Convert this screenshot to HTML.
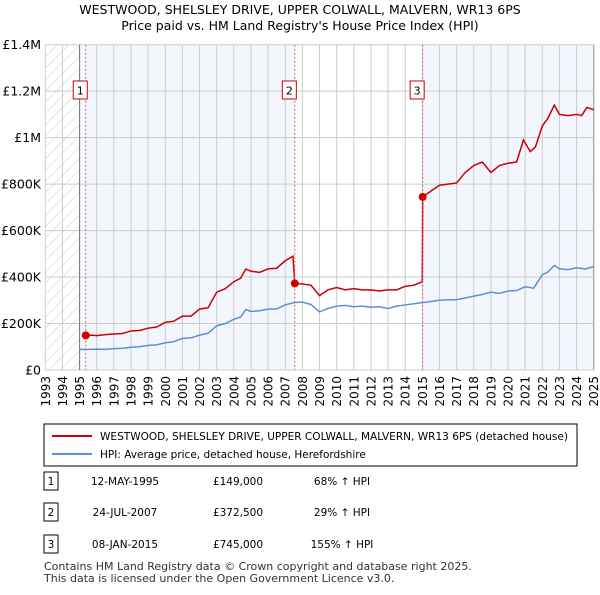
<!DOCTYPE html>
<html><head><meta charset="utf-8"><style>
body{margin:0;background:#fff;font-family:"Liberation Sans","DejaVu Sans",sans-serif;}
svg text{font-family:"DejaVu Sans","Liberation Sans",sans-serif;}
</style></head><body>
<svg width="600" height="590" viewBox="0 0 600 590">
<defs><pattern id="hatch" width="8" height="8" patternUnits="userSpaceOnUse" patternTransform="rotate(45)"><line x1="0" y1="0" x2="0" y2="8" stroke="#ccc" stroke-width="1"/></pattern></defs>
<text x="300" y="14" text-anchor="middle" font-size="12.5" fill="#000">WESTWOOD, SHELSLEY DRIVE, UPPER COLWALL, MALVERN, WR13 6PS</text>
<text x="300" y="30" text-anchor="middle" font-size="12.5" fill="#000">Price paid vs. HM Land Registry's House Price Index (HPI)</text>
<g id="bg"></g><g id="grid"></g><g id="axes"></g><g id="series"></g><g id="marks"></g>
<g>
<rect x="44" y="424" width="533" height="42" fill="#fff" stroke="#000" stroke-width="1"/>
<line x1="52" y1="436" x2="92" y2="436" stroke="#cc0000" stroke-width="2"/>
<text x="100" y="440" font-size="10.5" textLength="468" lengthAdjust="spacingAndGlyphs">WESTWOOD, SHELSLEY DRIVE, UPPER COLWALL, MALVERN, WR13 6PS (detached house)</text>
<line x1="52" y1="454" x2="92" y2="454" stroke="#5b8fd6" stroke-width="2"/>
<text x="100" y="458" font-size="10.5">HPI: Average price, detached house, Herefordshire</text>
</g>
<g id="table" font-size="10.5"></g>
<text x="44" y="570" font-size="11" fill="#333">Contains HM Land Registry data © Crown copyright and database right 2025.</text>
<text x="44" y="582" font-size="11" fill="#333">This data is licensed under the Open Government Licence v3.0.</text>
</svg>
<script>
const yearTicks=[1993,1994,1995,1996,1997,1998,1999,2000,2001,2002,2003,2004,2005,2006,2007,2008,2009,2010,2011,2012,2013,2014,2015,2016,2017,2018,2019,2020,2021,2022,2023,2024,2025];
const priceTicks=[0,200000,400000,600000,800000,1000000,1200000,1400000];
const priceLabels=["£0","£200K","£400K","£600K","£800K","£1M","£1.2M","£1.4M"];
const hpiDates=[1995,1995.5,1996,1996.5,1997,1997.5,1998,1998.5,1999,1999.5,2000,2000.5,2001,2001.5,2002,2002.5,2003,2003.5,2004,2004.4,2004.7,2005,2005.5,2006,2006.5,2007,2007.5,2008,2008.5,2009,2009.5,2010,2010.5,2011,2011.5,2012,2012.5,2013,2013.5,2014,2014.5,2015,2015.5,2016,2016.5,2017,2017.5,2018,2018.5,2019,2019.5,2020,2020.5,2021,2021.5,2022,2022.3,2022.7,2023,2023.5,2024,2024.5,2025];
const hpiValues=[88000,89000,90000,89000,92000,93000,98000,100000,106000,108000,117000,122000,136000,138000,150000,158000,190000,200000,218000,228000,260000,252000,255000,262000,263000,280000,290000,292000,282000,250000,265000,275000,278000,272000,275000,270000,272000,265000,275000,280000,285000,290000,295000,300000,302000,303000,310000,318000,325000,335000,330000,340000,342000,358000,352000,410000,420000,450000,435000,432000,440000,435000,445000];
const redDates=[1995.36,1995.7,1996,1996.5,1997,1997.5,1998,1998.5,1999,1999.5,2000,2000.5,2001,2001.5,2002,2002.5,2003,2003.5,2004,2004.4,2004.7,2005,2005.5,2006,2006.5,2007,2007.45,2007.56,2008,2008.5,2009,2009.5,2010,2010.5,2011,2011.5,2012,2012.5,2013,2013.5,2014,2014.5,2015,2015.02,2015.5,2016,2016.5,2017,2017.5,2018,2018.5,2019,2019.5,2020,2020.5,2020.9,2021.3,2021.6,2022,2022.3,2022.7,2023,2023.5,2024,2024.3,2024.6,2025];
const redValues=[149000,150000,148000,152000,155000,157000,168000,170000,180000,185000,205000,210000,232000,232000,262000,268000,335000,350000,380000,395000,435000,425000,420000,435000,438000,470000,490000,372500,370000,365000,320000,345000,355000,345000,350000,345000,345000,340000,345000,345000,360000,365000,380000,745000,770000,795000,800000,805000,850000,880000,895000,850000,880000,890000,895000,990000,940000,960000,1050000,1080000,1140000,1100000,1095000,1100000,1095000,1130000,1120000];
const saleLabels=["1","2","3"];
const saleDates=[1995.36,2007.56,2015.02];
const salePrices=[149000,372500,745000];
const saleDateText=["12-MAY-1995","24-JUL-2007","08-JAN-2015"];
const salePriceText=["£149,000","£372,500","£745,000"];
const saleHpiText=["68% ↑ HPI","29% ↑ HPI","155% ↑ HPI"];

const X0=45.3,X1=593.7,Y0=370,Y1=44.7;
const xs=t=>X0+(t-1993)/(2025-1993)*(X1-X0);
const ys=v=>Y0-v/1400000*(Y0-Y1);
const NS="http://www.w3.org/2000/svg";
function mk(parent,tag,attrs){const e=document.createElementNS(NS,tag);for(const k in attrs)e.setAttribute(k,attrs[k]);document.getElementById(parent).appendChild(e);return e;}
let e;
e=mk('bg','rect',{x:X0,y:Y1,width:xs(1995)-X0,height:Y0-Y1,fill:'url(#hatch)'});


e=mk('bg','rect',{x:xs(1995),y:Y1,width:xs(saleDates[1])-xs(1995),height:Y0-Y1,fill:'#f3f6fd'});


e=mk('bg','rect',{x:xs(saleDates[2]),y:Y1,width:X1-xs(saleDates[2]),height:Y0-Y1,fill:'#f3f6fd'});


yearTicks.forEach(t=>{
 e=mk('grid','line',{x1:xs(t),x2:xs(t),y1:Y1,y2:Y0,stroke:'#ccc','stroke-width':1});
 
 
 e=mk('axes','text',{x:0,y:0,transform:`translate(${xs(t)+4.5},${Y0+6}) rotate(-90)`,'text-anchor':'end','font-size':12});
 e.textContent=t;
 
 
});
priceTicks.forEach((v,i)=>{
 e=mk('grid','line',{x1:X0,x2:X1,y1:ys(v),y2:ys(v),stroke:'#ccc','stroke-width':1});
 
 
 e=mk('axes','text',{x:41,y:ys(v)+4.5,'text-anchor':'end','font-size':12.5});
 e.textContent=priceLabels[i];
 
 
});
e=mk('grid','line',{x1:xs(1995),x2:xs(1995),y1:Y1,y2:Y0,stroke:'#777','stroke-width':1});


e=mk('grid','line',{x1:X1,x2:X1,y1:Y1,y2:Y0,stroke:'#999','stroke-width':1});


e=mk('series','polyline',{points:hpiDates.map((d,i)=>xs(d)+','+ys(hpiValues[i])).join(' '),fill:'none',stroke:'#5b8fd6','stroke-width':1.5});


e=mk('series','polyline',{points:redDates.map((d,i)=>xs(d)+','+ys(redValues[i])).join(' '),fill:'none',stroke:'#cc0000','stroke-width':1.5});


saleDates.forEach((d,i)=>{
 e=mk('marks','line',{x1:xs(d),x2:xs(d),y1:Y1,y2:Y0,stroke:'#e06060','stroke-width':1,'stroke-dasharray':'2,2'});
 
 
 e=mk('marks','circle',{cx:xs(d),cy:ys(salePrices[i]),r:4,fill:'#cc0000'});
 
 
 e=mk('marks','rect',{x:xs(d)-12.5,y:81,width:14,height:18,fill:'#fff',stroke:'#cc0000'});
 
 
 e=mk('marks','text',{x:xs(d)-5.5,y:94.5,'text-anchor':'middle','font-size':11});
 e.textContent=saleLabels[i];
 
 
 const ry=[483,514,546][i];
 e=mk('table','rect',{x:44,y:ry-11,width:14,height:18,fill:'#fff',stroke:'#000'});
 
 
 e=mk('table','text',{x:51,y:ry+2,'text-anchor':'middle'});e.textContent=saleLabels[i];
 
 
 e=mk('table','text',{x:125,y:ry+2,'text-anchor':'middle'});e.textContent=saleDateText[i];
 
 
 e=mk('table','text',{x:238,y:ry+2,'text-anchor':'middle'});e.textContent=salePriceText[i];
 
 
 e=mk('table','text',{x:342,y:ry+2,'text-anchor':'middle'});e.textContent=saleHpiText[i];
 
 
});
</script>
</body></html>
